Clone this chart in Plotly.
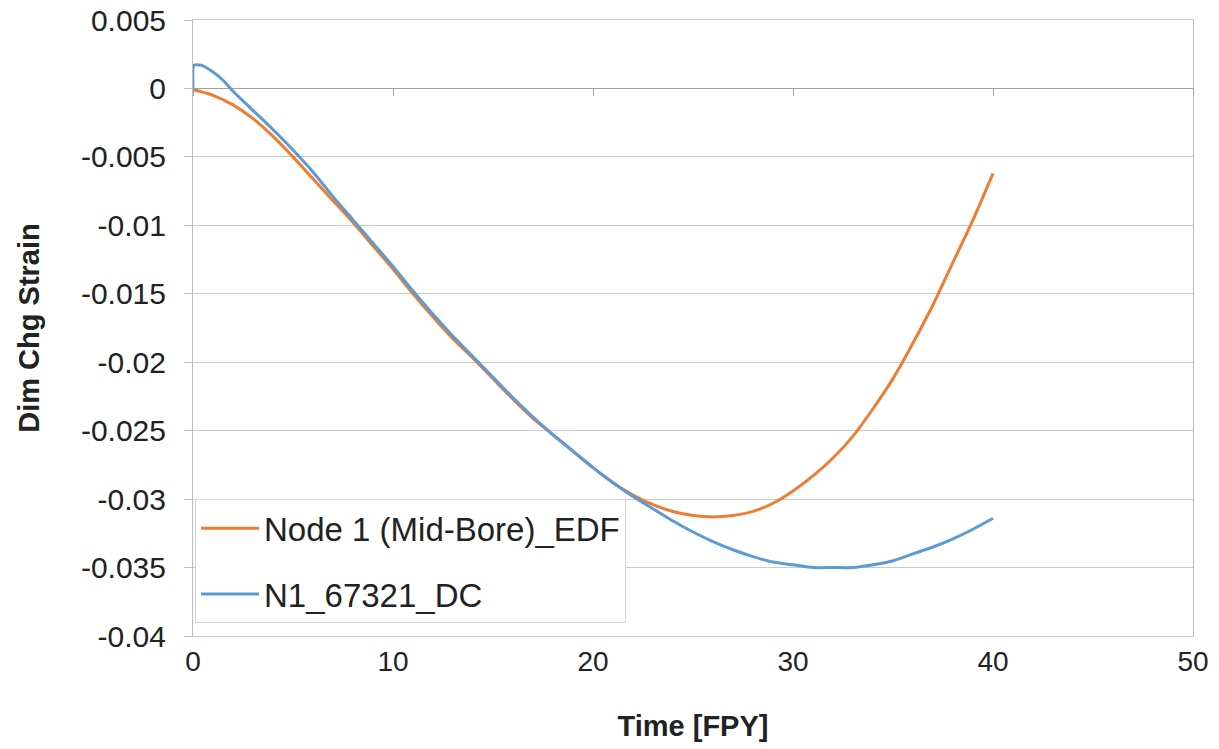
import plotly.graph_objects as go

# Time axis (full-power years) and dimensional-change strain for each series
time_edf = [0, 1, 2, 3, 4, 5, 6, 7, 8, 9, 10, 11, 12, 13, 14, 15, 16, 17, 18, 19, 20,
            21, 22, 23, 24, 25, 26, 27, 28, 29, 30, 31, 32, 33, 34, 35, 36, 37, 38, 39, 40]
strain_edf = [-0.0001, -0.0005, -0.0012, -0.0022, -0.0035, -0.0050, -0.0066, -0.0082,
              -0.0098, -0.0115, -0.0132, -0.0150, -0.0167, -0.0183, -0.0197, -0.0212,
              -0.0227, -0.0241, -0.0253, -0.0265, -0.0277, -0.0288, -0.0297, -0.0304,
              -0.0309, -0.0312, -0.0313, -0.0312, -0.0309, -0.0303, -0.0294, -0.0283,
              -0.0270, -0.0254, -0.0234, -0.0212, -0.0186, -0.0158, -0.0127, -0.0096,
              -0.0062]

time_dc = [0, 0.05, 0.4, 1, 1.5, 2, 3, 4, 5, 6, 7, 8, 9, 10, 11, 12, 13, 14, 15, 16, 17,
           18, 19, 20, 21, 22, 23, 24, 25, 26, 27, 28, 29, 30, 31, 32, 33, 34, 35, 36,
           37, 38, 39, 40]
strain_dc = [0.0, 0.0017, 0.0017, 0.0012, 0.0006, -0.0002, -0.0016, -0.0030, -0.0045,
             -0.0061, -0.0079, -0.0096, -0.0113, -0.0130, -0.0148, -0.0165, -0.0181,
             -0.0196, -0.0211, -0.0226, -0.0240, -0.0253, -0.0265, -0.0277, -0.0288,
             -0.0298, -0.0307, -0.0316, -0.0324, -0.0331, -0.0337, -0.0342, -0.0346,
             -0.0348, -0.0350, -0.0350, -0.0350, -0.0348, -0.0345, -0.0340, -0.0335,
             -0.0329, -0.0322, -0.0314]

series_names = ["Node 1 (Mid-Bore)_EDF", "N1_67321_DC"]
series_colors = ["#ED7D31", "#5B9BD5"]

x_ticks = [0, 10, 20, 30, 40, 50]
y_ticks = [0.005, 0, -0.005, -0.01, -0.015, -0.02, -0.025, -0.03, -0.035, -0.04]
y_tick_text = ["0.005", "0", "-0.005", "-0.01", "-0.015", "-0.02", "-0.025", "-0.03",
               "-0.035", "-0.04"]
x_range = [0, 50]
y_range = [-0.04, 0.005]

FONT = "Liberation Sans, Arial, sans-serif"
GRID = "#cacaca"

fig = go.Figure()
for name, color, xs, ys in zip(series_names, series_colors,
                               [time_edf, time_dc], [strain_edf, strain_dc]):
    fig.add_trace(go.Scatter(
        x=xs, y=ys, name=name, mode="lines", legendgroup=name,
        line=dict(color=color, width=3, shape="spline", smoothing=0.6),
    ))

# Secondary x axis sitting on y=0, carrying the small downward tick marks
fig.add_trace(go.Scatter(x=[None], y=[None], xaxis="x2", showlegend=False,
                         hoverinfo="skip"))

zero_pos = (0 - y_range[0]) / (y_range[1] - y_range[0])

fig.update_layout(
    width=1219, height=749,
    margin=dict(l=193, r=26, t=20, b=113),
    paper_bgcolor="white", plot_bgcolor="white",
    font=dict(family=FONT, color="#222222"),
    xaxis=dict(
        range=x_range, tickvals=x_ticks, ticks="", showgrid=False,
        zeroline=False, showline=True, linecolor=GRID, mirror=True,
        tickfont=dict(size=28, family=FONT, color="#222222"),
        ticklabelstandoff=0, automargin=False,
        title=dict(text="<b>Time [FPY]</b>", font=dict(size=29, family=FONT),
                   standoff=40),
    ),
    xaxis2=dict(
        range=x_range, tickvals=x_ticks, overlaying="x", anchor="free",
        position=zero_pos, side="bottom", ticks="outside", ticklen=7,
        tickcolor="#9f9f9f", showticklabels=False, showgrid=False,
        zeroline=False, showline=False, automargin=False,
    ),
    yaxis=dict(
        range=y_range, tickvals=y_ticks, ticktext=y_tick_text,
        showgrid=True, gridcolor=GRID, gridwidth=1,
        zeroline=True, zerolinecolor="#9f9f9f", zerolinewidth=1.3,
        showline=True, linecolor="#bdbdbd", mirror=True,
        ticks="outside", ticklen=8, tickcolor="#bdbdbd",
        tickfont=dict(size=30, family=FONT, color="#222222"),
        ticklabelstandoff=12, automargin=False,
        title=dict(text="<b>Dim Chg Strain</b>", font=dict(size=29, family=FONT),
                   standoff=32),
    ),
    legend=dict(
        x=0.002, xanchor="left", y=0.222, yanchor="top",
        bgcolor="white", bordercolor="#d6d6d6", borderwidth=1,
        font=dict(size=33, family=FONT, color="#222222"),
        traceorder="grouped", tracegroupgap=20, itemwidth=58,
    ),
    showlegend=True,
)

fig.write_html("out.html")
